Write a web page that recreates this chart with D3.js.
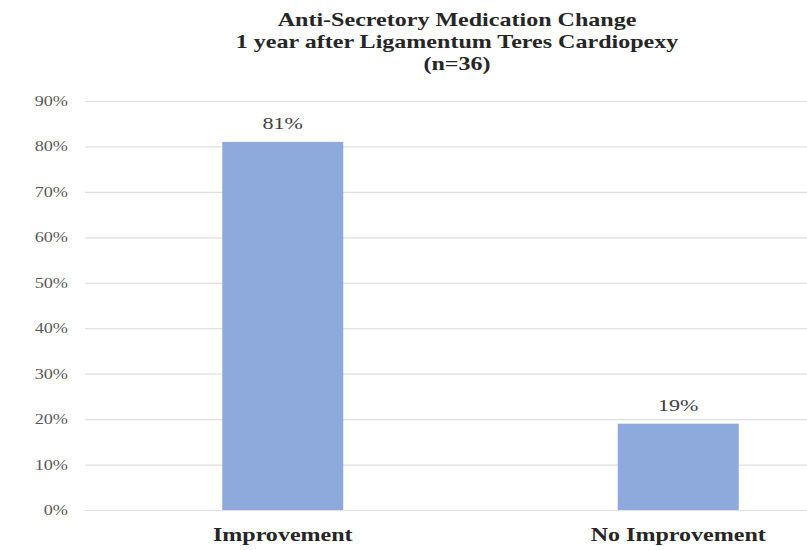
<!DOCTYPE html>
<html>
<head>
<meta charset="utf-8">
<script src="https://cdn.jsdelivr.net/npm/d3@7"></script>
<style>
  body { margin: 0; background: #fff; }
  svg text { font-family: "Liberation Serif", "Times New Roman", serif; }
</style>
</head>
<body>
<svg id="chart" width="807" height="550"></svg>
<script>
// chart data
var categories = ["Improvement", "No Improvement"];
var values = [81, 19];
var valueLabels = ["81%", "19%"];
var yTicks = [0, 10, 20, 30, 40, 50, 60, 70, 80, 90];
var titleLines = ["Anti-Secretory Medication Change", "1 year after Ligamentum Teres Cardiopexy", "(n=36)"];

var svg = d3.select("#chart");

// plot area
var plotLeft = 85, plotRight = 876, plotTop = 101, plotBottom = 510;
var stretch = 1.3; // text in the picture is a bit wide

var y = d3.scaleLinear().domain([0, 90]).range([plotBottom, plotTop]);
var x = d3.scaleBand().domain(categories).range([plotLeft, plotRight])
  .paddingInner(0.694).paddingOuter(0.347);

// gridlines + tick labels
var yAxis = d3.axisLeft(y)
  .tickValues(yTicks)
  .tickSize(-(807 - plotLeft))
  .tickPadding(17)
  .tickFormat(function(d) { return d + "%"; });

var gy = svg.append("g")
  .attr("transform", "translate(" + plotLeft + ",0)")
  .call(yAxis);
gy.select(".domain").remove();
gy.selectAll(".tick line").attr("stroke", "#e0e0e0").attr("stroke-width", 1.2);
gy.selectAll(".tick text")
  .attr("fill", "#595959")
  .attr("font-size", 14)
  .attr("font-family", "Liberation Serif")
  .attr("text-anchor", "end")
  .attr("transform", function() {
    var tx = +d3.select(this).attr("x");
    return "translate(" + tx + ",0) scale(" + stretch + ",1) translate(" + (-tx) + ",0)";
  });

// bars
svg.append("g").selectAll("rect")
  .data(values)
  .enter().append("rect")
  .attr("x", function(d, i) { return x(categories[i]); })
  .attr("y", function(d) { return y(d); })
  .attr("width", x.bandwidth())
  .attr("height", function(d) { return y(0) - y(d); })
  .attr("fill", "#8eaadc");

// value labels
svg.append("g").selectAll("text")
  .data(values)
  .enter().append("text")
  .attr("transform", function(d, i) {
    var cx = x(categories[i]) + x.bandwidth() / 2;
    return "translate(" + cx + "," + (y(d) - 13) + ") scale(" + stretch + ",1)";
  })
  .attr("text-anchor", "middle")
  .attr("font-size", 17)
  .attr("fill", "#404040")
  .text(function(d, i) { return valueLabels[i]; });

// category labels
svg.append("g").selectAll("text")
  .data(categories)
  .enter().append("text")
  .attr("transform", function(d) {
    var cx = x(d) + x.bandwidth() / 2;
    return "translate(" + cx + "," + (plotBottom + 31) + ") scale(" + stretch + ",1)";
  })
  .attr("text-anchor", "middle")
  .attr("font-size", 18.5)
  .attr("font-weight", "bold")
  .attr("fill", "#262626")
  .text(function(d) { return d; });

// title
svg.append("g").selectAll("text")
  .data(titleLines)
  .enter().append("text")
  .attr("transform", function(d, i) {
    return "translate(457," + (26 + i * 22) + ") scale(" + stretch + ",1)";
  })
  .attr("text-anchor", "middle")
  .attr("font-size", 18.5)
  .attr("font-weight", "bold")
  .attr("fill", "#262626")
  .text(function(d) { return d; });
</script>
</body>
</html>
